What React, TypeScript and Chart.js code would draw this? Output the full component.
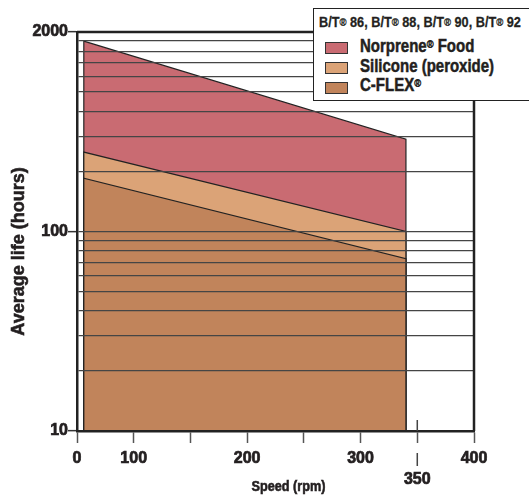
import React, { useEffect, useRef } from 'react';
import { Chart, registerables } from 'chart.js';

Chart.register(...registerables);

// ---- data ----
const speedRange = [56, 340]; // rpm: start and end of every band
const norpreneFood = [900, 290]; // hours at start / end speed
const siliconePeroxide = [250, 100];
const cFlex = [185, 73];
const lifeFloor = 10;

const seriesNames = ['Norprene® Food', 'Silicone (peroxide)', 'C-FLEX®'];
const seriesColors = ['#C96B72', '#DBA377', '#C1845B'];

const xTickValues = [50, 100, 150, 200, 250, 300, 350, 400];
const xTickLabels = ['0', '100', '', '200', '', '300', '350', '400'];
const xLoweredTick = 350;
const yGridValues = [10, 20, 30, 40, 50, 60, 70, 80, 90, 100, 200, 300, 400, 500, 600, 700, 800, 900, 1000];
const yTickValues = [10, 100, 1000];
const yTickLabels = ['10', '100', '2000'];

const xTitle = 'Speed (rpm)';
const yTitle = 'Average life (hours)';
const legendTitleParts = ['86', '88', '90', '92'];

const FONT = '"Liberation Sans", Arial, Helvetica, sans-serif';
const INK = '#231f20';

function band(values: number[]) {
  return [
    { x: speedRange[0], y: lifeFloor },
    { x: speedRange[0], y: values[0] },
    { x: speedRange[1], y: values[1] },
    { x: speedRange[1], y: lifeFloor },
  ];
}

const framePlugin = {
  id: 'framePlugin',
  afterDraw(chart: any) {
    const { ctx, chartArea: a, scales } = chart;
    ctx.save();
    ctx.strokeStyle = '#222';
    ctx.lineWidth = 2.5;
    ctx.beginPath();
    ctx.moveTo(a.left, a.top);
    ctx.lineTo(a.right, a.top);
    ctx.lineTo(a.right, a.bottom);
    ctx.stroke();

    const xl = scales.x.getPixelForValue(xLoweredTick);
    ctx.lineWidth = 1.5;
    ctx.strokeStyle = '#444';
    ctx.beginPath();
    ctx.moveTo(xl, a.bottom - 11);
    ctx.lineTo(xl, a.bottom);
    ctx.moveTo(xl, a.bottom + 22);
    ctx.lineTo(xl, a.bottom + 35);
    ctx.stroke();

    ctx.fillStyle = INK;
    ctx.strokeStyle = INK;
    ctx.lineWidth = 0.6;
    ctx.textAlign = 'center';
    ctx.textBaseline = 'middle';

    ctx.save();
    ctx.translate((a.left + a.right) / 2 + 13, a.bottom + 56);
    ctx.scale(0.82, 1);
    ctx.font = 'bold 15.5px ' + FONT;
    ctx.fillText(xTitle, 0, 0);
    ctx.strokeText(xTitle, 0, 0);
    ctx.restore();

    ctx.translate(19, (a.top + a.bottom) / 2 + 20);
    ctx.rotate(-Math.PI / 2);
    ctx.font = 'bold 18px ' + FONT;
    ctx.fillText(yTitle, 0, 0);
    ctx.strokeText(yTitle, 0, 0);
    ctx.restore();
  },
};

function Legend() {
  const reg = { fontSize: '0.75em', verticalAlign: '0.1em' } as const;
  const sup = { fontSize: '0.62em', verticalAlign: 'top', lineHeight: '1.3em' } as const;
  const condensed = {
    transform: 'scaleX(0.82)', transformOrigin: 'left center', WebkitTextStroke: '0.5px ' + INK,
  } as const;
  const rows = [
    <span>Norprene<span style={sup}>®</span> Food</span>,
    <span>Silicone (peroxide)</span>,
    <span>C-FLEX<span style={sup}>®</span></span>,
  ];
  const textTops = [28, 47.5, 67];
  const swatchTops = [32.5, 52.5, 72.5];
  return (
    <div
      style={{
        position: 'absolute', left: 313, top: 8, width: 240, height: 93, boxSizing: 'border-box',
        border: '1.5px solid #222', background: '#fff', fontFamily: FONT, fontWeight: 'bold', color: INK,
      }}
    >
      <div style={{ position: 'absolute', left: 5, top: 5, fontSize: 15.5, lineHeight: '15px', whiteSpace: 'nowrap', ...condensed, WebkitTextStroke: '0.3px ' + INK }}>
        {legendTitleParts.map((p, i) => (
          <span key={i}>
            B/T<span style={reg}>®</span> {p}{i < legendTitleParts.length - 1 ? ', ' : ''}
          </span>
        ))}
      </div>
      {rows.map((r, i) => (
        <React.Fragment key={i}>
          <div
            style={{
              position: 'absolute', left: 10.5, top: swatchTops[i], width: 21, height: 10,
              background: seriesColors[i], border: '1px solid #333',
            }}
            title={seriesNames[i]}
          />
          <div style={{ position: 'absolute', left: 45.5, top: textTops[i], fontSize: 18.3, lineHeight: '18px', whiteSpace: 'nowrap', ...condensed }}>
            {r}
          </div>
        </React.Fragment>
      ))}
    </div>
  );
}

export default function App() {
  const canvasRef = useRef<HTMLCanvasElement>(null);

  useEffect(() => {
    if (!canvasRef.current) return;
    const values = [norpreneFood, siliconePeroxide, cFlex];
    const chart = new Chart(canvasRef.current, {
      type: 'line',
      data: {
        datasets: values.map((v, i) => ({
          label: seriesNames[i],
          data: band(v),
          borderColor: '#222',
          borderWidth: 1.2,
          backgroundColor: seriesColors[i],
          fill: 'start',
          pointRadius: 0,
          tension: 0,
          order: values.length - i,
        })),
      },
      options: {
        responsive: false,
        animation: false,
        parsing: false as any,
        layout: { padding: { left: 0, top: 32, right: 55, bottom: 0 } },
        plugins: { legend: { display: false }, tooltip: { enabled: false } },
        scales: {
          x: {
            type: 'linear',
            min: 50,
            max: 400,
            afterBuildTicks: (s: any) => { s.ticks = xTickValues.map((v) => ({ value: v })); },
            afterFit: (s: any) => { s.height = 64; },
            ticks: {
              autoSkip: false,
              maxRotation: 0,
              padding: 5,
              color: INK,
              textStrokeColor: INK,
              textStrokeWidth: 0.7,
              font: { family: FONT, size: 16, weight: 'bold', lineHeight: 1.3 },
              callback: (v: any) => {
                const lbl = xTickLabels[xTickValues.indexOf(v)] ?? '';
                return v === xLoweredTick ? ['', lbl] : lbl;
              },
            },
            grid: { drawOnChartArea: false, tickLength: 12, tickColor: '#555', tickWidth: 1.5 },
            border: { display: true, color: '#222', width: 2.5, z: 2 },
          },
          y: {
            type: 'logarithmic',
            min: 10,
            max: 1000,
            afterBuildTicks: (s: any) => { s.ticks = yGridValues.map((v) => ({ value: v })); },
            afterFit: (s: any) => { s.width = 77; },
            ticks: {
              autoSkip: false,
              padding: 0,
              color: INK,
              textStrokeColor: INK,
              textStrokeWidth: 0.7,
              font: { family: FONT, size: 16, weight: 'bold' },
              callback: (v: any) => {
                const k = yTickValues.indexOf(v);
                return k >= 0 ? yTickLabels[k] : '';
              },
            },
            grid: {
              z: 1,
              color: '#454545',
              lineWidth: 1.3,
              tickLength: 9,
              tickWidth: 1.5,
              tickColor: (c: any) => (c.tick && yTickValues.includes(c.tick.value) ? '#333' : 'rgba(0,0,0,0)'),
            },
            border: { display: true, color: '#222', width: 2.5, z: 2 },
          },
        },
      },
      plugins: [framePlugin],
    } as any);
    return () => chart.destroy();
  }, []);

  return (
    <div style={{ position: 'absolute', left: 0, top: 0, width: 529, height: 495, overflow: 'hidden', background: '#fff' }}>
      <canvas ref={canvasRef} width={529} height={495} style={{ display: 'block' }} />
      <Legend />
    </div>
  );
}
